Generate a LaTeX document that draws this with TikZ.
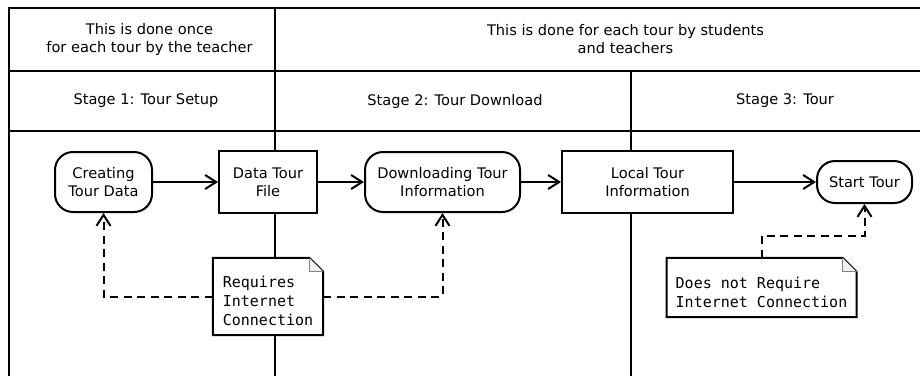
\documentclass[tikz,border=0pt]{standalone}
\usepackage{fontspec}
\setmainfont{DejaVu Sans}
\newfontfamily\notefont{DejaVu Sans Mono}
\usetikzlibrary{arrows.meta,positioning,calc}
\tikzset{
  font=\fontsize{14.6}{18}\selectfont,
  frame/.style   ={line width=2pt},
  headtext/.style={align=center, inner sep=0pt},
  box/.style     ={draw, fill=white, align=center, inner sep=2pt, line width=2pt},
  action/.style  ={box, rounded corners=18pt},
  object/.style  ={box},
  notebox/.style ={fill=white, align=left, inner xsep=9pt, inner ysep=3pt,
                   font=\notefont\fontsize{15}{19}\selectfont},
  fold/.style    ={line width=2pt, line join=miter},
  arr/.style     ={-{Straight Barb[length=11pt,width=14pt]}, line width=2pt},
  darr/.style    ={arr, dash pattern=on 8pt off 5.5pt},
}

\begin{document}
\begin{tikzpicture}[x=1pt, y=-1pt]
  \useasboundingbox (0,0) rectangle (920,376);
  % swimlane frame
  \draw[frame] (920,8) -- (9,8) -- (9,376);
  \draw[frame] (9,71)  -- (920,71);
  \draw[frame] (9,131) -- (920,131);
  \draw[frame] (275,8)  -- (275,376);
  \draw[frame] (631,71) -- (631,376);
  % headers
  \node[headtext] (teacher)  at (149.5,39) {This is done once\\for each tour by the teacher};
  \node[headtext] (everyone) at (625.5,39) {This is done for each tour by students\\and teachers};
  \node[headtext] (stage1)   at (146,101)  {Stage 1: Tour Setup};
  \node[headtext] (stage2)   at (455,101)  {Stage 2: Tour Download};
  \node[headtext] (stage3)   at (785,101)  {Stage 3: Tour};
  % activities and objects
  \node[action, minimum width=97pt,  minimum height=60pt] (creating) at (103.5,182) {Creating\\Tour Data};
  \node[object, minimum width=98pt,  minimum height=62pt] (tourfile) at (268,182)   {Data Tour\\File};
  \node[action, minimum width=155pt, minimum height=60pt] (download) at (442.5,182) {Downloading Tour\\Information};
  \node[object, minimum width=171pt, minimum height=62pt] (localinfo) at (647.5,182) {Local Tour\\Information};
  \node[action, minimum width=95pt,  minimum height=42pt] (starttour) at (864.5,182) {Start Tour};
  % notes
  \node[notebox, minimum width=110pt, minimum height=77pt] (reqnote)   at (268,296.5)
    {\rule{0pt}{21pt}Requires\\Internet\\Connection};
  \node[notebox, minimum height=59pt]                      (noreqnote) at (761.5,287.5)
    {\rule{0pt}{21pt}Does not Require\\Internet Connection};
  \foreach \n in {reqnote,noreqnote} {
    \draw[fold] (\n.north west) -- ($(\n.north east)+(-14,0)$) -- ($(\n.north east)+(0,14)$)
      -- (\n.south east) -- (\n.south west) -- cycle;
    \draw[fold, line width=1.2pt, draw=gray, fill=gray!10] ($(\n.north east)+(-14,0)$)
      -- ($(\n.north east)+(-14,14)$) -- ($(\n.north east)+(0,14)$);
  }

  \draw[arr] (creating) -- (tourfile);
  \draw[arr] (tourfile) -- (download);
  \draw[arr] (download) -- (localinfo);
  \draw[arr] (localinfo) -- (starttour);
  \draw[darr] (reqnote.west) -| (creating.south);
  \draw[darr] (reqnote.east) -| (download.south);
  \draw[darr] (noreqnote.north) -- ++(0,-22) -| (starttour.south);
\end{tikzpicture}
\end{document}
